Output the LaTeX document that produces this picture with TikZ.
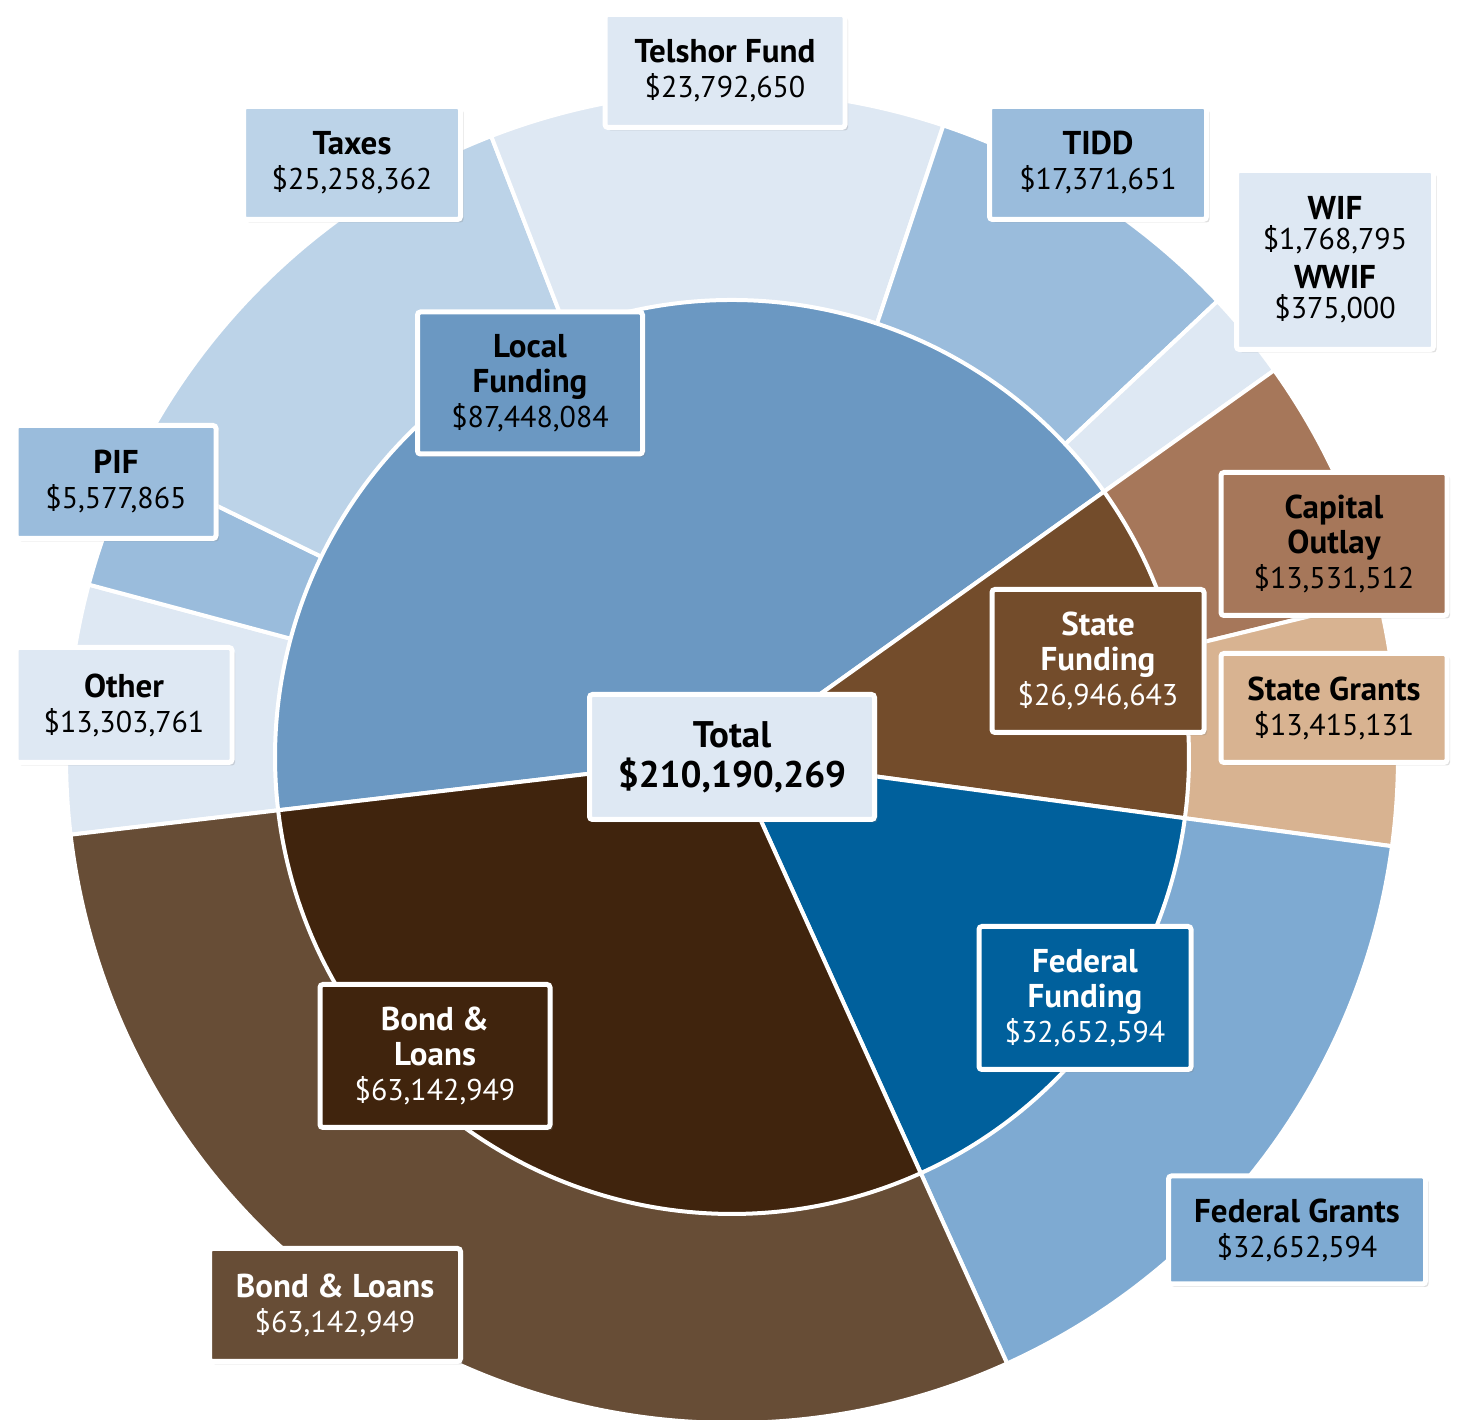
\documentclass[tikz,border=0pt]{standalone}
\usepackage{fontspec}
\setmainfont{PT Sans}
\usepackage{tikz}
\usetikzlibrary{shadows}
\definecolor{localblue}{HTML}{6B98C2}
\definecolor{statebrown}{HTML}{734C2B}
\definecolor{fedblue}{HTML}{00609C}
\definecolor{bonddark}{HTML}{40240D}
\definecolor{palesky}{HTML}{DEE8F3}
\definecolor{midsky}{HTML}{9ABCDC}
\definecolor{lightsky}{HTML}{BCD3E8}
\definecolor{grantblue}{HTML}{7EAAD2}
\definecolor{capbrown}{HTML}{A6775A}
\definecolor{sandtan}{HTML}{D8B391}
\definecolor{bondbrown}{HTML}{674D36}
\tikzstyle{fundbox} = [rectangle, draw=white, line width=2.5pt,
                       rounded corners=1.5pt, align=center,
                       font=\fontsize{15}{17.5}\selectfont,
                       drop shadow={opacity=0.25, shadow xshift=1.5pt, shadow yshift=-1.5pt}]
\tikzstyle{slice} = [draw=white, line width=2pt, line join=round]
\newcommand{\fundname}[1]{{\fontsize{16.5}{17.5}\selectfont\bfseries #1}}
\def\Ro{333pt}
\def\Ri{228.5pt}

\begin{document}
\begin{tikzpicture}[x=0.5pt, y=0.5pt]
    \useasboundingbox (0,0) rectangle (1458,1420);
    \coordinate (ctr) at (732,663);

    % Outer ring
    \foreach \a/\b/\col in {165/186.7/palesky, 154/165/midsky, 111.2/154/lightsky,
                            71.5/111.2/palesky, 43.2/71.5/midsky, 35.5/43.2/palesky,
                            13.7/35.5/capbrown, -7.7/13.7/sandtan,
                            -65.6/-7.7/grantblue, -173.3/-65.6/bondbrown} {
        \fill[slice, fill=\col] (ctr) -- ++(\a:\Ro) arc[start angle=\a, end angle=\b, radius=\Ro] -- cycle;
    }

    % Inner pie
    \foreach \a/\b/\col in {35.5/186.7/localblue, -7.7/35.5/statebrown,
                            -65.6/-7.7/fedblue, -173.3/-65.6/bonddark} {
        \fill[slice, fill=\col] (ctr) -- ++(\a:\Ri) arc[start angle=\a, end angle=\b, radius=\Ri] -- cycle;
    }

    % Outer labels
    \node[fundbox, fill=palesky, minimum width=120pt, minimum height=56.5pt] (telshor) at (725,1349) {\fundname{Telshor Fund}\\\$23,792,650};
    \node[fundbox, fill=lightsky, minimum width=108.5pt, minimum height=56.5pt] (taxes) at (352,1257) {\fundname{Taxes}\\\$25,258,362};
    \node[fundbox, fill=midsky, minimum width=108.5pt, minimum height=56.5pt] (tidd) at (1098,1257) {\fundname{TIDD}\\\$17,371,651};
    \node[fundbox, fill=palesky, minimum width=98.5pt, minimum height=89.5pt,
          font=\fontsize{15}{15}\selectfont] (wif) at (1335,1160) {\fundname{WIF}\\\$1,768,795\\[4.5pt]\fundname{WWIF}\\\$375,000};
    \node[fundbox, fill=midsky, minimum width=100pt, minimum height=56.5pt] (pif) at (116,938) {\fundname{PIF}\\\$5,577,865};
    \node[fundbox, fill=palesky, minimum width=108pt, minimum height=57.5pt] (other) at (124,715) {\fundname{Other}\\\$13,303,761};
    \node[fundbox, fill=capbrown, minimum width=113pt, minimum height=71.5pt] (capital) at (1334,876) {\fundname{Capital}\\\fundname{Outlay}\\\$13,531,512};
    \node[fundbox, fill=sandtan, minimum width=113pt, minimum height=54.5pt] (stategrants) at (1334,712) {\fundname{State Grants}\\\$13,415,131};
    \node[fundbox, fill=grantblue, minimum width=128.5pt, minimum height=54pt] (fedgrants) at (1297,190) {\fundname{Federal Grants}\\\$32,652,594};
    \node[fundbox, fill=bondbrown, text=white, minimum width=125.5pt, minimum height=56.5pt] (bondout) at (335,115) {\fundname{Bond \& Loans}\\\$63,142,949};

    % Inner labels
    \node[fundbox, fill=localblue, minimum width=112.5pt, minimum height=71pt] (local) at (530,1037) {\fundname{Local}\\\fundname{Funding}\\\$87,448,084};
    \node[fundbox, fill=statebrown, text=white, minimum width=106pt, minimum height=71.5pt] (statefund) at (1098,759) {\fundname{State}\\\fundname{Funding}\\\$26,946,643};
    \node[fundbox, fill=fedblue, text=white, minimum width=106pt, minimum height=71.5pt] (fedfund) at (1085,422) {\fundname{Federal}\\\fundname{Funding}\\\$32,652,594};
    \node[fundbox, fill=bonddark, text=white, minimum width=115pt, minimum height=71.5pt] (bondin) at (435,364) {\fundname{Bond \&}\\\fundname{Loans}\\\$63,142,949};

    % Total
    \node[fundbox, fill=palesky, minimum width=142.5pt, minimum height=62.5pt,
          font=\fontsize{18.5}{20}\selectfont\bfseries] (total) at (ctr) {Total\\\$210,190,269};
\end{tikzpicture}
\end{document}
